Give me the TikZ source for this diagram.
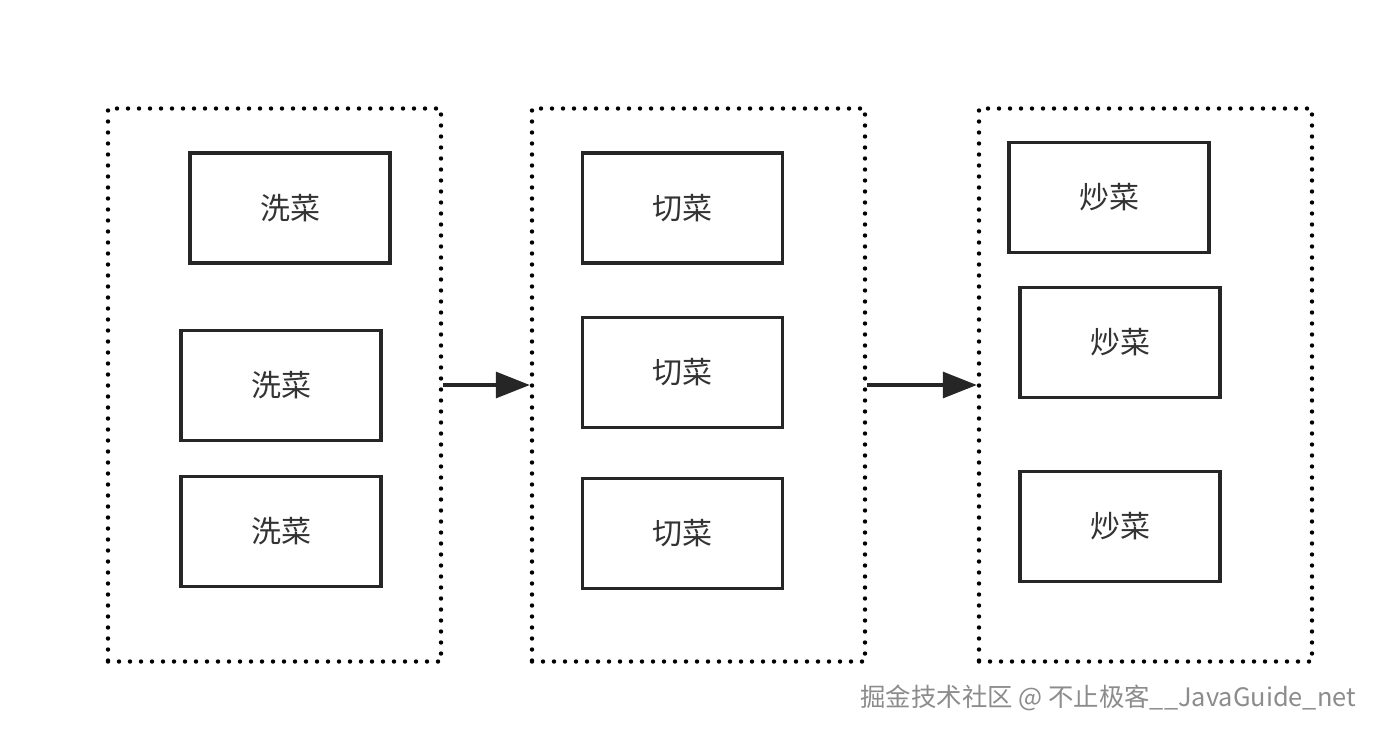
\documentclass[tikz,border=0pt]{standalone}
\usepackage{fontspec}
\setmainfont{Noto Sans CJK SC}
\usetikzlibrary{positioning, arrows.meta}

\begin{document}
\begin{tikzpicture}[
    x=0.5pt, y=-0.5pt,
    every node/.style={font=\fontsize{15}{18}\selectfont, text=black!80},
    group/.style={draw, line width=2.2pt, line cap=round, dash pattern=on 0pt off 5.5pt, minimum width=166.5pt, minimum height=276.5pt},
    task/.style={draw=black!85, line width=1.6pt, minimum width=100pt, minimum height=55pt},
    arrow/.style={-{Triangle[length=17pt, width=13pt]}, line width=1.6pt, draw=black!85}
]
\useasboundingbox (0,0) rectangle (1384,734);

% stages
\node[group] (g1) at (274.5,385) {};
\node[group] (g2) at (698.5,385) {};
\node[group] (g3) at (1145.5,385) {};

% wash
\node[task] (w1) at (290,208) {洗菜};
\node[task] (w2) at (281,385.5) {洗菜};
\node[task] (w3) at (281,531.5) {洗菜};

% cut
\node[task] (c1) at (682.5,208) {切菜};
\node[task] (c2) at (682.5,372.5) {切菜};
\node[task] (c3) at (682.5,533.5) {切菜};

% fry
\node[task] (f1) at (1109,197.5) {炒菜};
\node[task] (f2) at (1120,342.5) {炒菜};
\node[task] (f3) at (1120,526.5) {炒菜};

\draw[arrow] (g1.east) -- (g2.west);
\draw[arrow] (g2.east) -- (g3.west);

\node[anchor=east, font=\fontsize{12.7}{14}\selectfont, text=black!45] (mark) at (1363,698) {掘金技术社区 @ 不止极客\_\_JavaGuide\_net};

\end{tikzpicture}
\end{document}
